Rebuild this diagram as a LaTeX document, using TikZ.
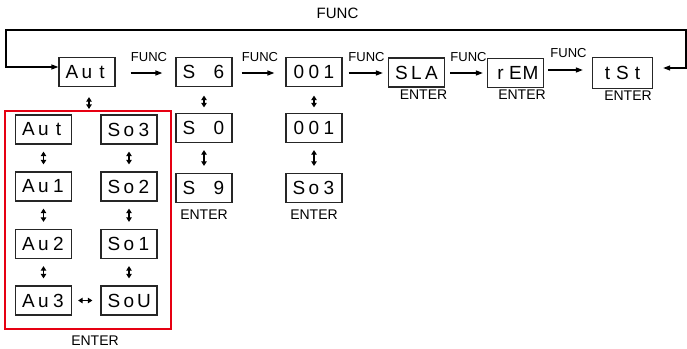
\documentclass[tikz,border=0pt]{standalone}
\usepackage{fontspec}
\setmainfont{Liberation Sans}
\usetikzlibrary{arrows.meta,calc}
\definecolor{grpred}{RGB}{230,0,18}
\newcommand\dg[1]{\makebox[15pt]{#1}}
\newcommand\disp[3]{\fontsize{19}{19}\selectfont\dg{#1}\dg{#2}\dg{#3}}
\tikzset{
  lcd/.style={draw=black!85, line width=1.3pt, fill=white, minimum width=56pt, minimum height=29pt, inner sep=0pt},
  funclab/.style={inner sep=0pt, font=\fontsize{13}{13}\selectfont},
  enterlab/.style={inner sep=0pt, font=\fontsize{14}{14}\selectfont},
  farr/.style={line width=1.5pt, -{Triangle[length=7pt,width=5pt]}},
  darr/.style={line width=1.4pt, {Triangle[length=4.5pt,width=5.5pt]}-{Triangle[length=4.5pt,width=5.5pt]}},
  redbox/.style={draw=grpred, line width=1.1pt, minimum width=166pt, minimum height=218pt, inner sep=0pt}
}
\begin{document}
\begin{tikzpicture}[x=1pt,y=-1pt]
\useasboundingbox (0,0) rectangle (687,348);
% red group
\node[redbox] (grp) at (88,220) {};
% top row
\node[lcd] (aut) at (87,72) {\disp{A}{u}{t}};
\node[lcd] (s6) at (204,72) {\disp{S}{}{6}};
\node[lcd] (o01) at (314,72) {\disp{0}{0}{1}};
\node[lcd] (sla) at (416.5,72.5) {\disp{S}{L}{A}};
\node[lcd] (rem) at (515.5,73) {\disp{r}{E}{M}};
\node[lcd, minimum width=60pt, minimum height=31pt] (tst) at (622.5,73) {\disp{t}{S}{t}};
% columns
\node[lcd] (s0) at (204,128) {\disp{S}{}{0}};
\node[lcd] (s9) at (204,188) {\disp{S}{}{9}};
\node[lcd] (o01b) at (314,128) {\disp{0}{0}{1}};
\node[lcd] (so3b) at (314,188) {\disp{S}{o}{3}};
% group content
\node[lcd] (g1) at (43.5,129.5) {\disp{A}{u}{t}};
\node[lcd] (g2) at (43.5,186.5) {\disp{A}{u}{1}};
\node[lcd] (g3) at (43.5,244) {\disp{A}{u}{2}};
\node[lcd] (g4) at (43.5,300.5) {\disp{A}{u}{3}};
\node[lcd] (h1) at (129,129.5) {\disp{S}{o}{3}};
\node[lcd] (h2) at (129,186.5) {\disp{S}{o}{2}};
\node[lcd] (h3) at (129,244) {\disp{S}{o}{1}};
\node[lcd] (h4) at (129,300.5) {\disp{S}{o}{U}};
% labels
\node[inner sep=0pt, font=\fontsize{15}{15}\selectfont] (topfunc) at (337.5,13) {FUNC};
\node[funclab] (f1) at (149,57.5) {FUNC};
\node[funclab] (f2) at (260,57.5) {FUNC};
\node[funclab] (f3) at (366.5,57.5) {FUNC};
\node[funclab] (f4) at (468.5,57.5) {FUNC};
\node[funclab] (f5) at (568.5,53.5) {FUNC};
\node[enterlab] (e1) at (423.5,95) {ENTER};
\node[enterlab] (e2) at (522,95) {ENTER};
\node[enterlab] (e3) at (628,96) {ENTER};
\node[enterlab] (e4) at (204,215) {ENTER};
\node[enterlab] (e5) at (314,215) {ENTER};
\node[enterlab] (e6) at (95,340.5) {ENTER};
% func arrows
\draw[farr, shorten <=15pt, shorten >=13pt] ([yshift=-1pt]aut.east) -- ([yshift=-1pt]s6.west);
\draw[farr, shorten <=9pt, shorten >=11pt] ([yshift=-1pt]s6.east) -- ([yshift=-1pt]o01.west);
\draw[farr, shorten <=6pt, shorten >=5pt] ([yshift=-1pt]o01.east) -- ([yshift=-0.5pt]sla.west);
\draw[farr, shorten <=5pt, shorten >=4pt] ([yshift=-0.5pt]sla.east) -- (rem.west);
\draw[farr, shorten <=4pt, shorten >=9pt] ([yshift=3pt]rem.east) -- ([yshift=3pt]tst.west);
% loop
\coordinate (loopR) at (686,68);
\coordinate (topR) at (686,30);
\coordinate (topL) at (6,30);
\draw[line width=1.3pt, {Triangle[length=7pt,width=5pt]}-{Triangle[length=7pt,width=5pt]}]
  ($(tst.east|-loopR)+(10,0)$) -- (loopR) -- (topR) -- (topL) |- ([yshift=5pt]aut.west);
% vertical double arrows
\draw[darr, shorten <=10pt, shorten >=1.5pt] ([xshift=2pt]aut.south) -- ([xshift=2pt]aut.south |- grp.north);
\draw[darr, shorten <=8.5pt, shorten >=5.5pt] (s6) -- (s0);
\draw[darr, shorten <=7pt, shorten >=7pt] (s0) -- (s9);
\draw[darr, shorten <=8.5pt, shorten >=5.5pt] (o01) -- (o01b);
\draw[darr, shorten <=7pt, shorten >=7pt] (o01b) -- (so3b);
\foreach \a/\b in {g1/g2,g2/g3,g3/g4,h1/h2,h2/h3,h3/h4}{
  \draw[darr, shorten <=7pt, shorten >=7pt] (\a) -- (\b);
}
\draw[darr, shorten <=6pt, shorten >=8pt] (g4) -- (h4);
\end{tikzpicture}
\end{document}
